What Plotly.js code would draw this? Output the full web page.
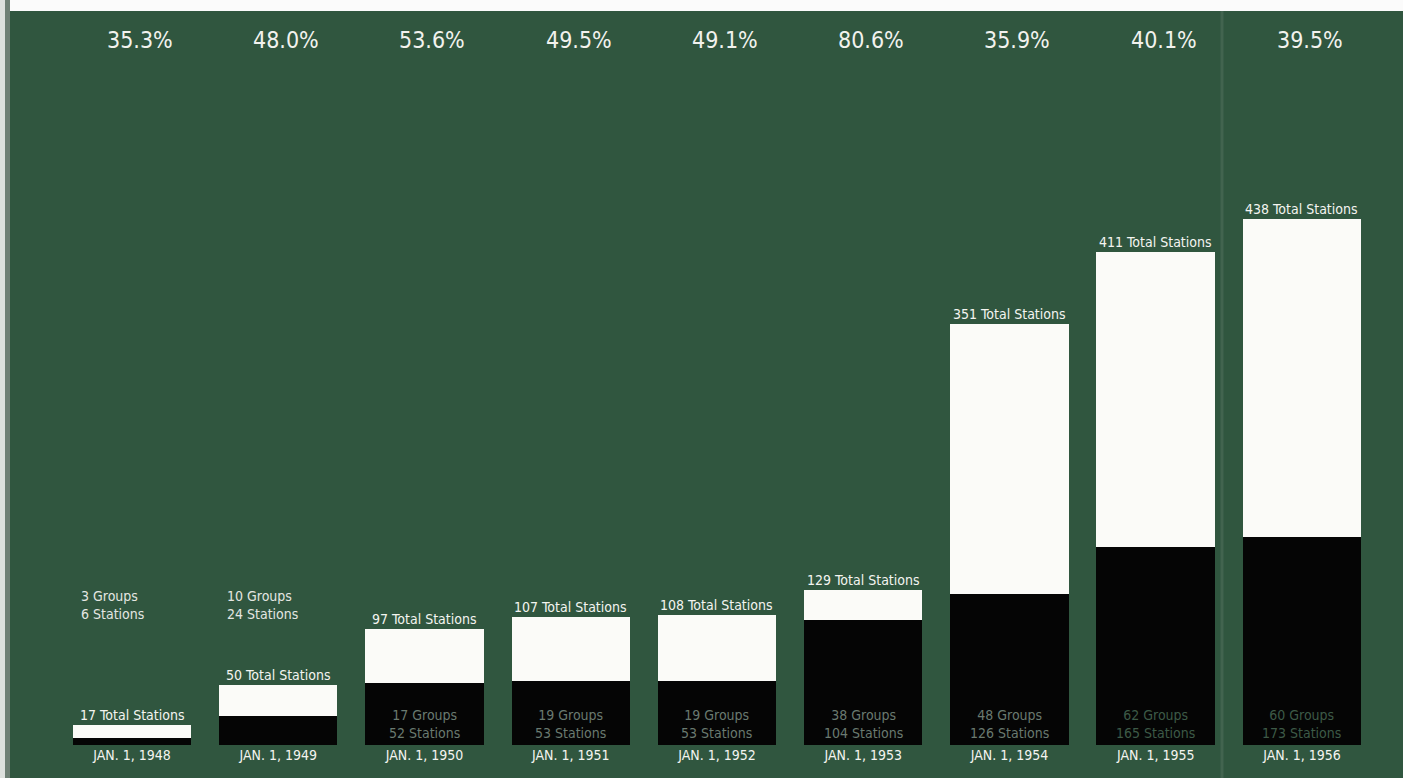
<!DOCTYPE html>
<html>
<head>
<meta charset="utf-8">
<script src="https://cdn.plot.ly/plotly-3.0.1.min.js"></script>
<style>
  html, body { margin: 0; padding: 0; background: #30563f; }
  #chart { width: 1403px; height: 778px; }
</style>
</head>
<body>
<div id="chart"></div>
<script>
// ---- data ----
const dateLabels = ["JAN. 1, 1948", "JAN. 1, 1949", "JAN. 1, 1950", "JAN. 1, 1951", "JAN. 1, 1952",
                    "JAN. 1, 1953", "JAN. 1, 1954", "JAN. 1, 1955", "JAN. 1, 1956"];
const totalStations = [17, 50, 97, 107, 108, 129, 351, 411, 438];
const groupCount    = [3, 10, 17, 19, 19, 38, 48, 62, 60];
const groupStations = [6, 24, 52, 53, 53, 104, 126, 165, 173];
const pctLabels     = ["35.3%", "48.0%", "53.6%", "49.5%", "49.1%", "80.6%", "35.9%", "40.1%", "39.5%"];

const otherStations = totalStations.map((t, i) => t - groupStations[i]);

const FONT = "'Liberation Sans Narrow', 'DejaVu Sans Condensed', 'Arial Narrow', sans-serif";
const GREEN = "#30563f";

const traces = [
  {
    type: "bar", x: dateLabels, y: groupStations, name: "Group-owned stations",
    marker: { color: "#050505", line: { width: 0 } }, hoverinfo: "skip"
  },
  {
    type: "bar", x: dateLabels, y: otherStations, name: "Other stations",
    marker: { color: "#fbfbf8", line: { width: 0 } }, hoverinfo: "skip"
  }
];

const annotations = [];
// percentages along the top
pctLabels.forEach((p, i) => {
  annotations.push({
    x: dateLabels[i], xref: "x", y: 1 - 40 / 745, yref: "paper",
    text: p, showarrow: false, xanchor: "center", yanchor: "middle", xshift: 8,
    font: { family: FONT, size: 23, color: "#f2f2ee" }
  });
});
// total station labels above bars
totalStations.forEach((t, i) => {
  annotations.push({
    x: dateLabels[i], xref: "x", y: t, yref: "y",
    text: t + " Total Stations", showarrow: false, xanchor: "center", yanchor: "bottom", yshift: 0,
    font: { family: FONT, size: 14, color: "#f4f4f0" }
  });
});
// group labels
groupCount.forEach((g, i) => {
  const txt = g + " Groups<br>" + groupStations[i] + " Stations";
  if (i < 2) {
    annotations.push({
      x: dateLabels[i], xref: "x", y: 117, yref: "y",
      text: txt, showarrow: false, xanchor: "left", yanchor: "middle", align: "left", xshift: -53,
      font: { family: FONT, size: 14, color: "#e4e6e2" }
    });
  } else {
    annotations.push({
      x: dateLabels[i], xref: "x", y: 0, yref: "y",
      text: txt, showarrow: false, xanchor: "center", yanchor: "bottom", align: "center", yshift: 2,
      font: { family: FONT, size: 14, color: i >= 7 ? "#3d5a47" : "#6a7a70" }
    });
  }
});

const layout = {
  width: 1403, height: 778,
  margin: { l: 0, r: 0, t: 0, b: 33, pad: 0 },
  paper_bgcolor: GREEN, plot_bgcolor: GREEN,
  barmode: "stack", bargap: 0.19,
  showlegend: false,
  xaxis: {
    type: "category", range: [-0.9026, 8.691],
    showgrid: false, zeroline: false, showline: false, ticks: "",
    tickfont: { family: FONT, size: 14, color: "#f4f4f0" }, ticklabelstandoff: 0
  },
  yaxis: {
    range: [0, 745 / 1.2], showgrid: false, zeroline: false, showline: false,
    showticklabels: false, ticks: ""
  },
  annotations: annotations,
  shapes: [
    { type: "rect", xref: "paper", yref: "paper", x0: 0, x1: 1, y0: 1 - 11 / 745, y1: 1.01,
      fillcolor: "#fbfbfb", line: { width: 0 }, layer: "above" },
    { type: "rect", xref: "paper", yref: "paper", x0: 0, x1: 5 / 1403, y0: -33 / 745, y1: 1,
      fillcolor: "#dde0dd", line: { width: 0 }, layer: "above" },
    { type: "rect", xref: "paper", yref: "paper", x0: 5 / 1403, x1: 10 / 1403, y0: -33 / 745, y1: 1,
      fillcolor: "#6f8075", line: { width: 0 }, layer: "above" },
    { type: "line", xref: "paper", yref: "paper", x0: 1222 / 1403, x1: 1222 / 1403, y0: -33 / 745, y1: 1,
      line: { color: "rgba(130,148,136,0.22)", width: 3 }, layer: "below" }
  ]
};

Plotly.newPlot("chart", traces, layout, { staticPlot: true, displayModeBar: false });
</script>
</body>
</html>
